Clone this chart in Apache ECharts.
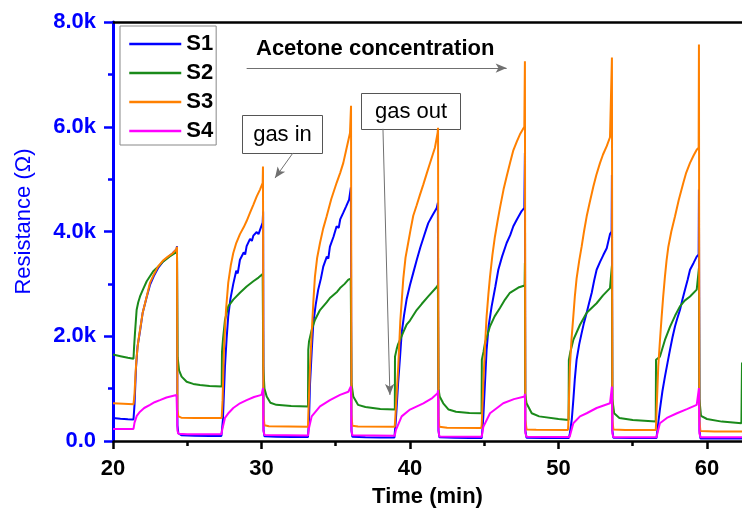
<!DOCTYPE html>
<html>
<head>
<meta charset="utf-8">
<script src="https://cdn.jsdelivr.net/npm/echarts@6.0.0/dist/echarts.min.js"></script>
<style>
  html, body { margin: 0; padding: 0; background: #fff; }
  #main { width: 742px; height: 513px; }
</style>
</head>
<body>
<div id="main"></div>
<script>
// time (min) / resistance (ohm) pairs
const seriesNames = ["S1", "S2", "S3", "S4"];
const xTicks = [20, 30, 40, 50, 60];
const xMinorTicks = [25, 35, 45, 55];
const yTickLabels = ["0.0", "2.0k", "4.0k", "6.0k", "8.0k"];

const s1Points = [
  [20.0, 440], [20.5, 425], [21.0, 415], [21.38, 410],
  [21.45, 700], [21.55, 1400], [21.65, 1800], [21.82, 2100], [22.0, 2450], [22.27, 2750], [22.49, 2980],
  [22.75, 3150], [23.03, 3300], [23.35, 3420], [23.7, 3510], [24.0, 3580], [24.28, 3660], [24.31, 3720],
  [24.34, 300], [24.4, 150], [24.6, 110], [25.5, 100], [26.5, 95], [27.3, 95],
  [27.4, 400], [27.54, 1420], [27.65, 1950], [27.76, 2380], [27.9, 2700], [28.1, 3000], [28.3, 3250],
  [28.4, 3200], [28.55, 3460], [28.8, 3600], [28.9, 3560], [29.0, 3720], [29.23, 3860], [29.35, 3820],
  [29.45, 3920], [29.68, 3990], [29.8, 3950], [29.9, 4030], [30.08, 4170], [30.11, 4380],
  [30.14, 200], [30.2, 90], [31.0, 80], [32.0, 75], [33.13, 75],
  [33.2, 400], [33.27, 1100], [33.38, 1700], [33.49, 2250], [33.65, 2600], [33.82, 2890], [34.0, 3100],
  [34.16, 3330], [34.4, 3520], [34.5, 3480], [34.61, 3710], [34.85, 3900], [35.06, 4100], [35.2, 4070],
  [35.3, 4230], [35.51, 4360], [35.7, 4480], [35.9, 4610], [36.02, 4840],
  [36.06, 200], [36.12, 80], [37.0, 70], [38.0, 65], [38.95, 65],
  [39.05, 400], [39.2, 1100], [39.33, 1600], [39.44, 2060], [39.6, 2400], [39.77, 2700], [40.0, 2980],
  [40.22, 3210], [40.45, 3450], [40.7, 3700], [40.95, 3920], [41.1, 4050], [41.23, 4160], [41.5, 4300],
  [41.8, 4450], [41.88, 4550],
  [41.92, 200], [41.98, 70], [43.0, 60], [44.0, 55], [44.83, 55],
  [44.9, 300], [44.94, 470], [45.05, 1100], [45.16, 1740], [45.3, 2200], [45.5, 2570], [45.75, 2950],
  [45.95, 3270], [46.2, 3520], [46.51, 3780], [46.75, 3930], [46.96, 4100], [47.2, 4230], [47.52, 4390],
  [47.7, 4450], [47.74, 5500],
  [47.77, 200], [47.85, 60], [49.0, 55], [50.0, 55], [50.7, 55],
  [50.77, 150], [50.9, 420], [51.0, 780], [51.1, 1180], [51.22, 1550], [51.4, 1850], [51.56, 2060],
  [51.72, 2260], [51.9, 2450], [52.05, 2620], [52.24, 2830], [52.4, 3060], [52.57, 3270], [52.8, 3420],
  [53.02, 3550], [53.25, 3680], [53.47, 3950], [53.58, 4000], [53.6, 5080],
  [53.63, 200], [53.7, 60], [55.0, 55], [56.0, 55], [56.6, 55],
  [56.7, 300], [56.83, 600], [57.0, 950], [57.17, 1230], [57.35, 1500], [57.51, 1740], [57.68, 1980],
  [57.85, 2190], [58.0, 2340], [58.18, 2500], [58.35, 2700], [58.52, 2890], [58.7, 3080], [58.86, 3270],
  [59.1, 3400], [59.31, 3520], [59.44, 3560], [59.46, 4800],
  [59.5, 200], [59.56, 50], [61.0, 50], [62.4, 50]
];

const s2Points = [
  [20.0, 1650], [20.5, 1620], [21.0, 1590], [21.38, 1570],
  [21.42, 1800], [21.48, 2060], [21.59, 2500], [21.7, 2650], [21.82, 2760], [22.0, 2880], [22.27, 3050],
  [22.5, 3150], [22.71, 3240], [23.0, 3320], [23.39, 3430], [23.8, 3520], [24.24, 3600], [24.31, 3650],
  [24.35, 1600], [24.45, 1350], [24.62, 1230], [24.96, 1130], [25.4, 1090], [25.86, 1070], [26.5, 1050],
  [27.32, 1040],
  [27.34, 1700], [27.41, 1950], [27.54, 2310], [27.76, 2570], [28.1, 2700], [28.55, 2830], [29.0, 2950],
  [29.45, 3050], [29.8, 3120], [30.08, 3190],
  [30.12, 1400], [30.2, 1000], [30.35, 850], [30.6, 730], [31.0, 690], [32.0, 670], [33.13, 660],
  [33.15, 1740], [33.2, 1900], [33.38, 2120], [33.6, 2310], [33.94, 2500], [34.4, 2650], [34.61, 2730],
  [35.1, 2850], [35.29, 2920], [35.6, 3000], [35.85, 3080], [36.01, 3100],
  [36.06, 1100], [36.18, 850], [36.5, 690], [37.0, 650], [38.0, 610], [38.98, 600],
  [38.99, 1610], [39.1, 1750], [39.2, 1850], [39.33, 1930], [39.55, 2080], [39.77, 2220], [40.0, 2300],
  [40.45, 2500], [40.8, 2620], [41.23, 2760], [41.8, 2940], [41.88, 2980],
  [41.92, 1000], [42.0, 850], [42.24, 720], [42.6, 600], [43.1, 560], [44.0, 535], [44.82, 530],
  [44.84, 1550], [44.95, 1700], [45.05, 1870], [45.39, 2190], [45.7, 2380], [46.06, 2540], [46.4, 2700],
  [46.73, 2830], [47.3, 2930], [47.72, 2970], [47.74, 3400],
  [47.76, 900], [47.85, 720], [48.2, 530], [48.7, 470], [50.0, 420], [50.68, 400],
  [50.7, 1550], [50.8, 1700], [51.0, 1930], [51.45, 2220], [51.9, 2450], [52.57, 2630], [53.0, 2780],
  [53.47, 2920], [53.58, 2950], [53.6, 3350],
  [53.63, 800], [53.75, 530], [54.1, 440], [55.0, 400], [56.55, 370],
  [56.57, 1550], [56.83, 1610], [57.17, 1930], [57.51, 2180], [57.85, 2390], [58.18, 2570], [58.5, 2680],
  [58.86, 2760], [59.31, 2890], [59.44, 2900], [59.46, 3300],
  [59.49, 800], [59.6, 480], [60.0, 420], [61.0, 370], [62.32, 340], [62.36, 1500]
];

const s3Points = [
  [20.0, 720], [20.7, 710], [21.38, 700],
  [21.45, 900], [21.52, 1300], [21.59, 1600], [21.7, 1900], [21.82, 2120], [22.0, 2450], [22.27, 2760],
  [22.49, 3020], [22.75, 3180], [23.03, 3330], [23.35, 3440], [23.7, 3520], [24.0, 3580], [24.25, 3650],
  [24.31, 3710],
  [24.34, 600], [24.4, 470], [24.6, 445], [25.5, 440], [27.32, 440],
  [27.38, 780], [27.47, 1740], [27.61, 2500], [27.76, 3020], [27.93, 3350], [28.1, 3590], [28.3, 3780],
  [28.55, 3950], [28.8, 4080], [29.0, 4200], [29.23, 4360], [29.45, 4510], [29.68, 4670], [29.9, 4800],
  [30.08, 4930], [30.1, 5240],
  [30.13, 500], [30.2, 300], [30.5, 280], [33.13, 270],
  [33.15, 470], [33.27, 1420], [33.38, 2060], [33.5, 2700], [33.6, 3140], [33.75, 3500], [33.94, 3780],
  [34.15, 4050], [34.39, 4290], [34.7, 4620], [35.06, 4930], [35.3, 5120], [35.51, 5310], [35.7, 5550],
  [35.96, 5880], [36.03, 6400],
  [36.06, 500], [36.12, 290], [36.5, 275], [38.97, 270],
  [38.99, 340], [39.21, 1420], [39.35, 2300], [39.55, 3100], [39.7, 3500], [39.89, 3800], [40.05, 4050],
  [40.22, 4300], [40.45, 4500], [40.67, 4700], [40.9, 4900], [41.12, 5100], [41.4, 5350], [41.68, 5600],
  [41.86, 5880], [41.89, 5980],
  [41.92, 450], [41.98, 270], [42.5, 255], [44.8, 250],
  [44.83, 300], [44.94, 1100], [45.05, 1800], [45.16, 2380], [45.28, 2800], [45.39, 3140], [45.55, 3550],
  [45.72, 3900], [45.9, 4200], [46.06, 4450], [46.3, 4800], [46.51, 5050], [46.75, 5320], [46.96, 5550],
  [47.2, 5720], [47.4, 5850], [47.7, 6000], [47.74, 7250],
  [47.77, 400], [47.85, 220], [48.5, 215], [50.64, 210],
  [50.66, 300], [50.77, 1420], [50.88, 1950], [51.0, 2380], [51.1, 2750], [51.22, 3100], [51.4, 3450],
  [51.56, 3710], [51.72, 4000], [51.9, 4290], [52.1, 4550], [52.35, 4860], [52.55, 5080], [52.8, 5310],
  [53.0, 5470], [53.25, 5630], [53.47, 5800], [53.6, 7320],
  [53.63, 400], [53.7, 220], [54.5, 210], [56.55, 210],
  [56.57, 300], [56.72, 1420], [56.83, 1900], [56.95, 2380], [57.05, 2750], [57.17, 3140], [57.28, 3450],
  [57.4, 3710], [57.6, 4000], [57.85, 4290], [58.1, 4600], [58.41, 4930], [58.6, 5120], [58.86, 5310],
  [59.1, 5450], [59.31, 5560], [59.44, 5600], [59.46, 7570],
  [59.49, 400], [59.56, 190], [60.5, 180], [62.4, 180]
];

const s4Points = [
  [20.0, 230], [21.38, 230],
  [21.45, 350], [21.6, 480], [21.82, 560], [22.1, 630], [22.49, 690], [22.8, 740], [23.16, 780],
  [23.6, 830], [24.0, 860], [24.28, 880], [24.31, 900],
  [24.34, 200], [24.4, 140], [25.0, 130], [27.3, 130],
  [27.38, 250], [27.54, 440], [27.8, 540], [28.1, 630], [28.55, 720], [29.0, 780], [29.5, 840],
  [30.0, 880], [30.08, 890], [30.1, 1010],
  [30.13, 200], [30.2, 115], [33.13, 105],
  [33.2, 250], [33.38, 470], [33.94, 660], [34.61, 780], [35.29, 880], [35.85, 940], [36.02, 1040],
  [36.06, 200], [36.12, 110], [38.97, 100],
  [39.05, 210], [39.44, 470], [40.0, 600], [40.9, 720], [41.5, 820], [41.86, 910], [41.89, 970],
  [41.92, 200], [41.98, 85], [44.83, 80],
  [44.94, 270], [45.39, 530], [46.28, 720], [47.0, 800], [47.72, 850], [47.74, 900],
  [47.77, 150], [47.85, 80], [50.75, 75],
  [51.0, 340], [51.45, 470], [51.9, 530], [52.57, 630], [53.47, 720], [53.58, 740], [53.6, 1040],
  [53.63, 150], [53.7, 70], [56.6, 70],
  [56.83, 340], [57.3, 440], [57.98, 530], [58.65, 610], [59.31, 690], [59.44, 700], [59.46, 1010],
  [59.49, 150], [59.56, 70], [62.4, 70]
];

const colors = ["#0000ff", "#1a8a1a", "#ff8000", "#ff00ff"];
const FONT = '"Liberation Sans", Arial, sans-serif';

const myChart = echarts.init(document.getElementById("main"), null, { renderer: "canvas" });

const xBase = { type: "value", min: 20, max: 62.36, splitLine: { show: false } };

myChart.setOption({
  animation: false,
  grid: { left: 113, right: 0, top: 22, bottom: 72, containLabel: false },
  legend: {
    orient: "vertical",
    left: 120,
    top: 26,
    padding: [7, 3, 3, 8],
    itemGap: 7,
    itemWidth: 52,
    itemHeight: 22,
    borderColor: "#888",
    borderWidth: 1,
    backgroundColor: "#fff",
    itemStyle: { opacity: 0 },
    lineStyle: { width: 2.5 },
    textStyle: { fontFamily: FONT, fontSize: 22, fontWeight: "bold", color: "#000" },
    data: seriesNames
  },
  xAxis: [
    {
      ...xBase,
      position: "bottom",
      name: "Time (min)",
      nameLocation: "middle",
      nameGap: 45,
      nameTextStyle: { fontFamily: FONT, fontSize: 22, fontWeight: "bold", color: "#000" },
      axisLine: { onZero: false, lineStyle: { color: "#000", width: 2.5 } },
      axisTick: { customValues: xTicks, length: 8, lineStyle: { color: "#000", width: 2.5 } },
      axisLabel: {
        customValues: xTicks,
        margin: 17,
        fontFamily: FONT, fontSize: 22, fontWeight: "bold", color: "#000"
      }
    },
    {
      ...xBase,
      position: "bottom",
      axisLine: { show: false },
      axisTick: { customValues: xMinorTicks, length: 5, lineStyle: { color: "#000", width: 2.5 } },
      axisLabel: { show: false }
    },
    {
      ...xBase,
      position: "top",
      axisLine: { onZero: false, lineStyle: { color: "#000", width: 2.5 } },
      axisTick: { show: false },
      axisLabel: { show: false }
    }
  ],
  yAxis: {
    type: "value",
    min: 0,
    max: 8000,
    interval: 2000,
    name: "Resistance (Ω)",
    nameLocation: "middle",
    nameGap: 78,
    nameTextStyle: { fontFamily: FONT, fontSize: 22, color: "#0000ff", padding: [0, 0, 0, 20] },
    splitLine: { show: false },
    axisLine: { show: true, onZero: false, lineStyle: { color: "#0000ff", width: 3 } },
    axisTick: { length: 9, lineStyle: { color: "#0000ff", width: 2.5 } },
    minorTick: { show: true, splitNumber: 2, length: 5, lineStyle: { color: "#0000ff", width: 2.5 } },
    axisLabel: {
      margin: 17,
      fontFamily: FONT, fontSize: 22, fontWeight: "bold", color: "#0000ff",
      formatter: (v) => yTickLabels[Math.round(v / 2000)]
    }
  },
  series: [s1Points, s2Points, s3Points, s4Points].map((pts, i) => ({
    name: seriesNames[i],
    type: "line",
    data: pts,
    showSymbol: false,
    symbol: "none",
    color: colors[i],
    lineStyle: { width: 2, color: colors[i] },
    z: 2 + i,
    markLine: i === 0 ? {
      silent: true,
      symbol: ["none", "arrow"],
      symbolSize: [7, 11],
      label: { show: false },
      lineStyle: { color: "#707070", width: 1, type: "solid" },
      data: [
        [{ coord: [32.12, 5500] }, { coord: [30.91, 5020] }],
        [{ coord: [38.18, 5960] }, { coord: [38.65, 880] }],
        [{ coord: [29.0, 7120] }, { coord: [46.51, 7120] }]
      ]
    } : undefined
  })),
  graphic: [
    {
      type: "text",
      left: 256,
      top: 38,
      style: { text: "Acetone concentration", font: "bold 22px " + FONT, fill: "#000" }
    },
    {
      type: "group",
      left: 242,
      top: 115,
      children: [
        { type: "rect", shape: { x: 0, y: 0, width: 80, height: 38 }, style: { fill: "#fff", stroke: "#555", lineWidth: 1 } },
        { type: "text", x: 40, y: 19, style: { text: "gas in", font: "22px " + FONT, fill: "#000", align: "center", verticalAlign: "middle" } }
      ]
    },
    {
      type: "group",
      left: 361,
      top: 93,
      children: [
        { type: "rect", shape: { x: 0, y: 0, width: 99, height: 36 }, style: { fill: "#fff", stroke: "#555", lineWidth: 1 } },
        { type: "text", x: 49.5, y: 18, style: { text: "gas out", font: "22px " + FONT, fill: "#000", align: "center", verticalAlign: "middle" } }
      ]
    }
  ]
});
</script>
</body>
</html>
